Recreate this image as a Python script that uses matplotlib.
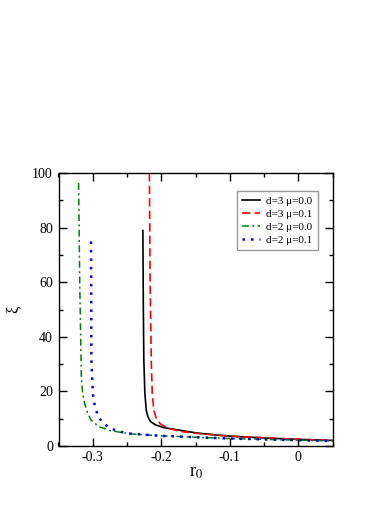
import matplotlib
matplotlib.use('Agg')
import matplotlib.pyplot as plt
from matplotlib.ticker import MultipleLocator

plt.rcParams['font.family'] = ['Liberation Serif', 'DejaVu Serif']
plt.rcParams['mathtext.fontset'] = 'stix'
plt.rcParams['axes.unicode_minus'] = False

# curves: r0 and xi
r0_d3_m00 = [-0.2269, -0.2262, -0.2255, -0.2240, -0.2220, -0.2196, -0.2157, -0.2083, -0.1962,
             -0.1766, -0.1473, -0.1200, -0.1000, -0.0500, 0.0000, 0.0500]
xi_d3_m00 = [79, 50, 31.5, 19.3, 13.2, 10.7, 8.9, 7.7, 6.7,
             5.9, 4.7, 4.0, 3.6, 2.9, 2.4, 2.0]

r0_d3_m01 = [-0.2174, -0.2163, -0.2146, -0.2132, -0.2108, -0.2069, -0.2010, -0.1889, -0.1717,
             -0.1473, -0.1200, -0.1000, -0.0500, 0.0000, 0.0500]
xi_d3_m01 = [100, 60, 31, 19, 12.9, 9.8, 8.0, 6.4, 5.3,
             4.6, 4.0, 3.6, 3.0, 2.4, 2.0]

r0_d2_m00 = [-0.3207, -0.3190, -0.3171, -0.3167, -0.3148, -0.3119, -0.3075, -0.3025, -0.2914,
             -0.2742, -0.2449, -0.2000, -0.1500, -0.1000, -0.0500, 0.0000, 0.0500]
xi_d2_m00 = [96.4, 60, 31.5, 25.4, 19.3, 15.6, 12.0, 9.5, 7.1,
             5.6, 4.4, 3.7, 3.2, 2.7, 2.4, 2.1, 1.8]

r0_d2_m01 = [-0.3025, -0.3022, -0.3020, -0.3010, -0.2996, -0.2977, -0.2952, -0.2922, -0.2859,
             -0.2782, -0.2684, -0.2596, -0.2489, -0.2391, -0.2000, -0.1500, -0.1000, -0.0500,
             0.0000, 0.0500]
xi_d2_m01 = [75, 50, 31.5, 25.4, 18.7, 15.6, 13.2, 10.7, 8.7,
             7.1, 5.9, 5.2, 4.6, 4.4, 3.7, 3.2, 2.7, 2.4,
             2.1, 1.8]

fig = plt.figure(figsize=(3.9, 5.05), dpi=100)
ax = fig.add_axes([0.150, 0.117, 0.703, 0.540])

ax.plot(r0_d3_m00, xi_d3_m00, color='black', lw=1.2, label='d=3 μ=0.0')
ax.plot(r0_d3_m01, xi_d3_m01, color='red', lw=1.2, dashes=(5, 2.5), label='d=3 μ=0.1')
ax.plot(r0_d2_m00, xi_d2_m00, color='green', lw=1.1, dashes=(4.5, 2.2, 1.3, 2.2), label='d=2 μ=0.0')
ax.plot(r0_d2_m01, xi_d2_m01, color='blue', lw=1.8, linestyle=(0, (1, 2.4)), label='d=2 μ=0.1')

ax.set_xlim(-0.35, 0.05)
ax.set_ylim(0, 100)

ax.xaxis.set_major_locator(MultipleLocator(0.1))
ax.xaxis.set_minor_locator(MultipleLocator(0.05))
ax.yaxis.set_major_locator(MultipleLocator(20))
ax.yaxis.set_minor_locator(MultipleLocator(10))
ax.set_xticks([-0.3, -0.2, -0.1, 0.0])
ax.set_xticklabels(['-0.3', '-0.2', '-0.1', '0'])

ax.tick_params(axis='both', which='major', direction='in', length=6, width=1.0,
               top=True, right=True, labelsize=10, pad=4)
ax.tick_params(axis='both', which='minor', direction='in', length=3, width=1.0,
               top=True, right=True)
for s in ax.spines.values():
    s.set_linewidth(1.0)

ax.set_xlabel(r'r$_0$', fontsize=13, labelpad=0)
ax.set_ylabel('ξ', fontsize=12, labelpad=8)

leg = ax.legend(loc='upper right', bbox_to_anchor=(0.965, 0.955), fontsize=8,
                frameon=True, fancybox=False, edgecolor='gray', handlelength=1.6,
                borderpad=0.45, labelspacing=0.3, handletextpad=0.6)
leg.get_frame().set_linewidth(1.0)

plt.savefig('out.png', dpi=100)
plt.close()
